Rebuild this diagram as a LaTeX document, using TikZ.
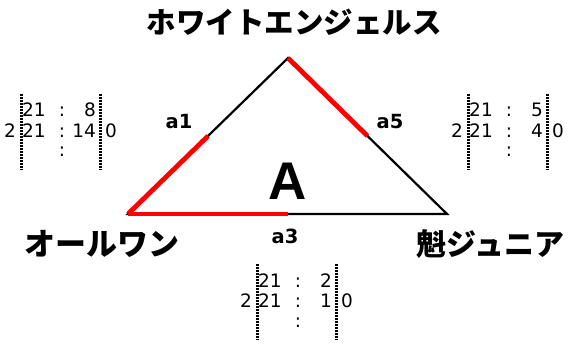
\documentclass[tikz,border=0pt]{standalone}
\usepackage{fontspec}
\setmainfont{Liberation Sans}
\newfontfamily\jpfont{Noto Sans CJK JP}
\newfontfamily\numfont{DejaVu Sans}
\usetikzlibrary{calc,positioning}
\tikzset{
	team/.style={
		inner sep=0pt, text=black,
		font=\jpfont\bfseries\fontsize{31}{31}\selectfont
	},
	score/.style={inner sep=0pt, font=\numfont\fontsize{18.5}{18.5}\selectfont},
	scorebar/.style={line width=3pt, dash pattern=on 2pt off 1pt},
}

\begin{document}
\begin{tikzpicture}[x=1pt,y=-1pt,
			edge/.style={line width=2.2pt, line join=miter},
			redhalf/.style={red, line width=4.8pt},
			edgelabel/.style={inner sep=0pt, font=\numfont\bfseries\fontsize{19.5}{19.5}\selectfont}]
		\useasboundingbox (0,0) rectangle (568,345);
		\coordinate (T) at (288,58);
		\coordinate (L) at (128,214);
		\coordinate (R) at (447,214);
		\draw[edge] (L) -- (T) -- (R) -- cycle;
		\draw[redhalf] (L) -- ($(L)!0.5!(T)$);
		\draw[redhalf] (T) -- ($(T)!0.5!(R)$);
		\draw[redhalf] (L) -- ($(L)!0.5!(R)$);
		\node[edgelabel] (a1) at (179,122) {a1};
		\node[edgelabel] (a5) at (390,122) {a5};
		\node[edgelabel] (a3) at (285,236) {a3};
		\node[inner sep=0pt, font=\bfseries\fontsize{53}{53}\selectfont] (area) at (288,181) {A};
		\node[team, font=\jpfont\bfseries\fontsize{29.5}{29.5}\selectfont] (white) at (294,22) {ホワイトエンジェルス};
		\node[team] (allone) at (102,244) {オールワン};
		\node[team, anchor=east, font=\jpfont\bfseries\fontsize{30}{30}\selectfont] (sakigake) at (565,244) {魁ジュニア};
		% score boxes
		\foreach \bx/\bxx/\bxy/\up/\dn in {l/21/94/8/14, r/468/94/5/4, b/257/264/2/1} {
			\begin{scope}[shift={(\bxx,\bxy)}]
				\draw[scorebar] (0,0) -- (0,76);
				\draw[scorebar] (79,0) -- (79,76);
				\node[score, anchor=base] (\bx-p1) at (13,23) {21};
				\node[score, anchor=base] (\bx-c1) at (41,23) {:};
				\node[score, anchor=base east] (\bx-q1) at (75,23) {\up};
				\node[score, anchor=base east] (\bx-n) at (-5,43) {2};
				\node[score, anchor=base] (\bx-p2) at (13,43) {21};
				\node[score, anchor=base] (\bx-c2) at (41,43) {:};
				\node[score, anchor=base east] (\bx-q2) at (75,43) {\dn};
				\node[score, anchor=base] (\bx-z) at (90,43) {0};
				\node[score, anchor=base] (\bx-c3) at (41,63) {:};
			\end{scope}
		}
	\end{tikzpicture}
\end{document}
